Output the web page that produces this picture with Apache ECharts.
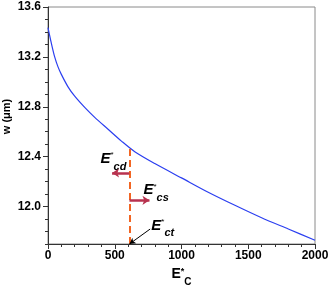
<!DOCTYPE html>
<html>
<head>
<meta charset="utf-8">
<script src="https://cdn.jsdelivr.net/npm/echarts@6/dist/echarts.min.js"></script>
<style>html,body{margin:0;padding:0;background:#fff}#c{width:331px;height:285px}</style>
</head>
<body>
<div id="c"></div>
<script>
// Data
const ecValues = [0, 25, 50, 75, 100, 150, 200, 275, 350, 450, 550, 650, 800, 1000, 1200, 1400, 1600, 1800, 2000];
const wValues = [13.435, 13.31, 13.2, 13.12, 13.06, 12.96, 12.885, 12.795, 12.715, 12.62, 12.525, 12.44, 12.345, 12.23, 12.115, 12.01, 11.91, 11.82, 11.73];
const yMajorTicks = [12.0, 12.4, 12.8, 13.2, 13.6];
const yMinorTicks = [11.7, 11.8, 11.9, 12.1, 12.2, 12.3, 12.5, 12.6, 12.7, 12.9, 13.0, 13.1, 13.3, 13.4, 13.5];
const xTickInterval = 500;
// Annotations
const ectValue = 610;
const curveAtEct = 12.48;
const cdArrow = [[610, 12.27], [480, 12.27]];
const csArrow = [[610, 12.05], [760, 12.05]];
const ctArrow = [[765, 11.82], [610, 11.7]];
const cdLabelPos = [490, 12.36];
const csLabelPos = [810, 12.11];
const ctLabelPos = [860, 11.825];

const FONT = '"Liberation Sans", Arial, sans-serif';
const chart = echarts.init(document.getElementById('c'), null, {renderer: 'canvas'});

const richE = {
  e: {fontFamily: FONT, fontSize: 15, fontStyle: 'italic', fontWeight: 'bold', color: '#000', lineHeight: 15, verticalAlign: 'top'},
  s: {fontFamily: FONT, fontSize: 8, color: '#000', lineHeight: 9, verticalAlign: 'top'},
  b: {fontFamily: FONT, fontSize: 11, fontStyle: 'italic', fontWeight: 'bold', color: '#000', lineHeight: 21, verticalAlign: 'bottom'}
};

const seriesData = ecValues.map((x, i) => [x, wValues[i]]);

chart.setOption({
  animation: false,
  backgroundColor: '#fff',
  grid: {left: 48, right: 16, top: 7, bottom: 41, show: true, borderColor: '#8a8a8a', borderWidth: 1,
    containLabel: false, outerBoundsMode: 'none'},
  xAxis: {
    type: 'value', min: 0, max: 2000, interval: xTickInterval,
    axisLine: {show: true, onZero: false, lineStyle: {color: '#333', width: 1}},
    axisTick: {show: true, inside: false, length: 5, lineStyle: {color: '#333'}},
    minorTick: {show: true, splitNumber: 5, length: 3, lineStyle: {color: '#333'}},
    splitLine: {show: false},
    axisLabel: {fontFamily: FONT, fontWeight: 'bold', fontSize: 12, color: '#000', margin: 6,
      formatter: v => String(v)},
    name: '{e|E}{s|*}{b|C}',
    nameLocation: 'middle', nameGap: 23, nameMoveOverlap: false,
    nameTextStyle: {
      rich: {
        e: {fontFamily: FONT, fontSize: 14, fontWeight: 'bold', color: '#000', lineHeight: 14, verticalAlign: 'top'},
        s: {fontFamily: FONT, fontSize: 9, fontWeight: 'bold', color: '#000', lineHeight: 9, verticalAlign: 'top'},
        b: {fontFamily: FONT, fontSize: 10, fontWeight: 'bold', color: '#000', lineHeight: 20, verticalAlign: 'bottom'}
      }
    }
  },
  yAxis: [{
    type: 'value', min: 11.7, max: 13.6,
    axisLine: {show: true, onZero: false, lineStyle: {color: '#333', width: 1}},
    axisTick: {show: true, inside: false, length: 5, customValues: yMajorTicks, lineStyle: {color: '#333'}},
    splitLine: {show: false},
    axisLabel: {fontFamily: FONT, fontWeight: 'bold', fontSize: 12, color: '#000', margin: 7,
      customValues: yMajorTicks, formatter: v => v.toFixed(1)},
    name: 'w (μm)', nameLocation: 'middle', nameGap: 36, nameRotate: 90, nameMoveOverlap: false,
    nameTextStyle: {fontFamily: FONT, fontWeight: 'bold', fontSize: 11, color: '#000', padding: [0, 0, 0, 18]}
  }, {
    type: 'value', min: 11.7, max: 13.6, position: 'left',
    axisLine: {show: false},
    axisTick: {show: true, inside: false, length: 3, customValues: yMinorTicks, lineStyle: {color: '#333'}},
    axisLabel: {show: false},
    splitLine: {show: false}
  }],
  series: [{
    type: 'line', data: seriesData, smooth: 0.3, showSymbol: false, symbol: 'none',
    lineStyle: {color: '#2b3ff0', width: 1.2}, z: 3
  }, {
    type: 'line', data: [], symbol: 'none',
    markLine: {
      silent: true, animation: false,
      label: {show: false},
      data: [
        [{coord: [ectValue, 11.7], symbol: 'none', lineStyle: {color: '#f26522', width: 2, type: [7, 4]}},
         {coord: [ectValue, curveAtEct], symbol: 'none'}],
        [{coord: cdArrow[0], symbol: 'none', lineStyle: {color: '#b8324f', width: 2.5, type: 'solid'}},
         {coord: cdArrow[1], symbol: 'arrow', symbolSize: [7, 7]}],
        [{coord: csArrow[0], symbol: 'none', lineStyle: {color: '#b8324f', width: 2.5, type: 'solid'}},
         {coord: csArrow[1], symbol: 'arrow', symbolSize: [7, 7]}],
        [{coord: ctArrow[0], symbol: 'none', lineStyle: {color: '#000', width: 1, type: 'solid'}},
         {coord: ctArrow[1], symbol: 'arrow', symbolSize: [5, 6]}]
      ]
    },
    markPoint: {
      silent: true, symbol: 'circle', symbolSize: 1, itemStyle: {color: 'rgba(0,0,0,0)'},
      label: {show: true, position: 'inside', rich: richE},
      data: [
        {coord: cdLabelPos, label: {formatter: '{e|E}{s|*}{b|cd}'}},
        {coord: csLabelPos, label: {formatter: '{e|E}{s|*}{b|cs}'}},
        {coord: ctLabelPos, label: {formatter: '{e|E}{s|*}{b|ct}'}}
      ]
    }
  }]
});
</script>
</body>
</html>
